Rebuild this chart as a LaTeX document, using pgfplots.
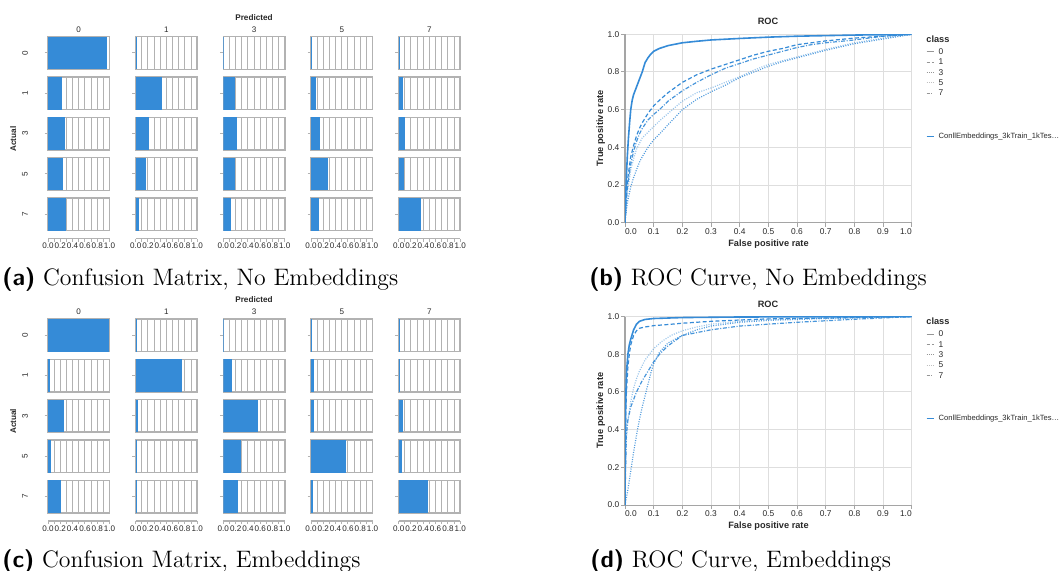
\documentclass[border=0pt]{standalone}
\usepackage{fontspec}
\usepackage{pgfplots}
\pgfplotsset{compat=1.18}
\newfontfamily\lsans{Liberation Sans}
\definecolor{cmblue}{RGB}{53,139,215}
\definecolor{cmgray}{RGB}{178,178,178}
\definecolor{rocgrid}{RGB}{222,222,222}
\definecolor{rocaxis}{RGB}{165,165,165}
\definecolor{lgray}{RGB}{150,150,150}
\definecolor{txt}{RGB}{40,40,40}
\def\U{0.5pt}
\newcommand\cmfont{\lsans\fontsize{4.05}{4.8}\selectfont}
\newcommand\hdfont{\lsans\bfseries\fontsize{4.1}{5}\selectfont}
\newcommand\rocfont{\lsans\fontsize{4.2}{5}\selectfont}
\newcommand\roctfont{\lsans\bfseries\fontsize{4.6}{5.5}\selectfont}
\newcommand\capfont{\fontsize{11.9}{14}\selectfont}
\tikzset{
  l0/.style={solid},
  l1/.style={dash pattern=on 1.6pt off 1pt},
  l3/.style={dash pattern=on 0.5pt off 0.6pt},
  l5/.style={dash pattern=on 0.5pt off 0.6pt,opacity=0.6},
  l7/.style={dash pattern=on 1.6pt off 0.7pt on 0.5pt off 0.7pt},
}
\pgfplotsset{
  cmcell/.style={width=30.75pt,height=16.25pt,scale only axis,
    xmin=0,xmax=1,ymin=0,ymax=1,
    xtick={0.1,0.2,0.3,0.4,0.5,0.6,0.7,0.8,0.9},xticklabels={},
    xmajorgrids, xtick style={draw=none},
    ytick={0.5},yticklabels={},ytick pos=left,tick align=outside,
    ytick style={cmgray,line width=0.5pt},major tick length=1.7pt,
    grid style={cmgray,line width=0.5pt},
    axis line style={cmgray,line width=0.7pt}},
  cmticks/.style={width=30.75pt,height=1pt,scale only axis,
    xmin=0,xmax=1,ymin=0,ymax=1,hide y axis,axis x line*=bottom,
    x axis line style={-,cmgray,line width=0.6pt},
    xtick={0,0.1,0.2,0.3,0.4,0.5,0.6,0.7,0.8,0.9,1},
    xticklabels={0.0,,0.2,,0.4,,0.6,,0.8,,1.0},
    tick align=outside,xtick style={cmgray,line width=0.5pt},major tick length=1.5pt,
    xticklabel style={font=\cmfont,text=txt,inner sep=0.5pt},
    /pgf/number format/assume math mode=true},
  roc/.style={width=143.35pt,height=94.2pt,scale only axis,
    xmin=0,xmax=1,ymin=0,ymax=1,
    xtick={0,0.1,0.2,0.3,0.4,0.5,0.6,0.7,0.8,0.9,1},
    xticklabels={\makebox[0pt][l]{0.0},0.1,0.2,0.3,0.4,0.5,0.6,0.7,0.8,0.9,\makebox[0pt][r]{1.0}},
    ytick={0,0.2,0.4,0.6,0.8,1},yticklabels={0.0,0.2,0.4,0.6,0.8,1.0},
    grid=major,grid style={rocgrid,line width=0.5pt},
    axis x line*=bottom,axis y line*=left,
    x axis line style={-,rocaxis,line width=0.5pt},
    y axis line style={-,rocaxis,line width=0.9pt},
    tick align=outside,major tick length=2pt,tick style={rocaxis,line width=0.5pt},
    ticklabel style={font=\rocfont,text=txt,inner sep=0.6pt},
    /pgf/number format/assume math mode=true},
  c0/.style={cmblue,line width=0.8pt},
  c1/.style={cmblue,line width=0.6pt,dash pattern=on 2pt off 1.2pt},
  c3/.style={cmblue,line width=0.6pt,opacity=0.85,dash pattern=on 0.5pt off 0.7pt},
  c5/.style={cmblue,line width=0.6pt,opacity=0.5,dash pattern=on 0.5pt off 0.7pt},
  c7/.style={cmblue,line width=0.6pt,opacity=0.9,dash pattern=on 2pt off 0.8pt on 0.5pt off 0.8pt},
}
% one row of a confusion matrix: #1 top y (px), #2 the five shares
\newcommand\cmrow[2]{%
  \foreach \v [count=\c from 0] in {#2} {%
    \begin{axis}[cmcell,at={({(48+\c*87.67)*\U},{-(#1)*\U})},anchor=north west]
      \addplot[draw=none,fill=cmblue] coordinates {(0,0) (\v,0) (\v,1) (0,1)} -- cycle;
    \end{axis}
  }}
% headers and tick axes of a confusion matrix: #1 vertical offset (px)
\newcommand\cmframe[1]{%
  \node[font=\hdfont,text=txt,inner sep=0] at ({254*\U},{-(17.7+#1)*\U}) {Predicted};
  \node[font=\hdfont,text=txt,inner sep=0,rotate=90] at ({13.3*\U},{-(139+#1)*\U}) {Actual};
  \foreach \t [count=\c from 0] in {0,1,3,5,7} {%
    \node[font=\cmfont,text=txt,inner sep=0] at ({(78.75+\c*87.67)*\U},{-(29.3+#1)*\U}) {\t};
    \node[font=\cmfont,text=txt,inner sep=0,rotate=90] at ({25*\U},{-(52.95+\c*40.33+#1)*\U}) {\t};
    \begin{axis}[cmticks,at={({(48+\c*87.67)*\U},{-(238.7+#1)*\U})},anchor=south west]
    \end{axis}
  }}
% legend of a ROC panel: #1 vertical offset (px)
\newcommand\roclegend[1]{%
  \node[font=\roctfont,text=txt,anchor=west,inner sep=0] at ({926*\U},{-(39+#1)*\U}) {class};
  \foreach \t/\s/\y in {0/l0/51.7,1/l1/62,3/l3/72.3,5/l5/82.7,7/l7/93} {%
    \draw[lgray,line width=0.5pt,\s] ({926.7*\U},{-(\y+#1)*\U}) -- ({933.5*\U},{-(\y+#1)*\U});
    \node[font=\rocfont,text=txt,anchor=west,inner sep=0] at ({938.3*\U},{-(\y+#1)*\U}) {\t};
  }
  \draw[cmblue,line width=0.6pt] ({926.7*\U},{-(136.3+#1)*\U}) -- ({934*\U},{-(136.3+#1)*\U});
  \node[font=\lsans\fontsize{3.8}{4.5}\selectfont,text=txt,anchor=west,inner sep=0] at ({938.3*\U},{-(136.3+#1)*\U}) {ConllEmbeddings\_3kTrain\_1kTes…};
  \node[font=\roctfont,text=txt,inner sep=0] at ({768*\U},{-(21.7+#1)*\U}) {ROC};
  \node[font=\roctfont,text=txt,inner sep=0] at ({768.5*\U},{-(244.3+#1)*\U}) {False positive rate};
  \node[font=\roctfont,text=txt,inner sep=0,rotate=90] at ({600.7*\U},{-(128.5+#1)*\U}) {True positive rate};
}
\begin{document}
\begin{tikzpicture}
\useasboundingbox (0,0) rectangle ({1064*\U},{-570*\U});
% ---------- (a) confusion matrix, no embeddings ----------
\cmrow{36.7}{0.967,0.008,0.006,0.003,0.003}
\cmrow{77.0}{0.22,0.43,0.195,0.08,0.065}
\cmrow{117.3}{0.28,0.22,0.23,0.15,0.10}
\cmrow{157.7}{0.25,0.17,0.195,0.28,0.09}
\cmrow{198.0}{0.30,0.06,0.125,0.13,0.36}
\cmframe{0}
% ---------- (c) confusion matrix, embeddings ----------
\cmrow{319.0}{0.99,0.003,0.003,0.002,0.002}
\cmrow{359.3}{0.03,0.75,0.14,0.05,0.005}
\cmrow{399.6}{0.26,0.035,0.56,0.05,0.075}
\cmrow{440.0}{0.05,0.02,0.29,0.565,0.055}
\cmrow{480.3}{0.21,0.01,0.24,0.025,0.48}
\cmframe{282.3}
% ---------- (b) ROC, no embeddings ----------
\begin{axis}[roc,at={({625*\U},{-222.7*\U})},anchor=south west]
\addplot[c3] coordinates {(0,0) (0.005,0.07) (0.01,0.12) (0.02,0.19) (0.03,0.24) (0.04,0.28) (0.05,0.32) (0.06,0.35) (0.08,0.40) (0.1,0.44) (0.12,0.47) (0.15,0.52) (0.2,0.60) (0.25,0.655) (0.3,0.695) (0.35,0.73) (0.4,0.77) (0.45,0.80) (0.5,0.83) (0.55,0.855) (0.6,0.875) (0.65,0.895) (0.7,0.915) (0.8,0.95) (0.9,0.975) (1,1)};
\addplot[c5] coordinates {(0,0) (0.005,0.10) (0.01,0.18) (0.02,0.28) (0.03,0.34) (0.04,0.39) (0.05,0.42) (0.06,0.45) (0.08,0.48) (0.1,0.51) (0.12,0.54) (0.15,0.58) (0.2,0.645) (0.25,0.69) (0.3,0.715) (0.35,0.745) (0.4,0.775) (0.45,0.81) (0.5,0.84) (0.55,0.86) (0.6,0.88) (0.65,0.90) (0.7,0.92) (0.8,0.955) (0.9,0.98) (1,1)};
\addplot[c7] coordinates {(0,0) (0.005,0.13) (0.01,0.21) (0.02,0.31) (0.03,0.38) (0.04,0.43) (0.05,0.47) (0.06,0.50) (0.08,0.545) (0.1,0.575) (0.12,0.60) (0.15,0.645) (0.2,0.70) (0.25,0.745) (0.3,0.785) (0.35,0.82) (0.4,0.845) (0.45,0.87) (0.5,0.89) (0.55,0.91) (0.6,0.93) (0.65,0.945) (0.7,0.955) (0.8,0.97) (0.9,0.99) (1,1)};
\addplot[c1] coordinates {(0,0) (0.005,0.15) (0.01,0.24) (0.02,0.35) (0.03,0.41) (0.04,0.46) (0.05,0.50) (0.06,0.53) (0.08,0.58) (0.1,0.62) (0.12,0.65) (0.15,0.69) (0.2,0.745) (0.25,0.785) (0.3,0.815) (0.35,0.84) (0.4,0.865) (0.45,0.89) (0.5,0.91) (0.55,0.925) (0.6,0.945) (0.65,0.955) (0.7,0.965) (0.8,0.98) (0.9,0.99) (1,1)};
\addplot[c0] coordinates {(0,0) (0.002,0.12) (0.005,0.25) (0.008,0.35) (0.012,0.45) (0.016,0.53) (0.02,0.60) (0.025,0.65) (0.03,0.68) (0.04,0.72) (0.05,0.76) (0.06,0.80) (0.07,0.85) (0.08,0.875) (0.09,0.895) (0.1,0.91) (0.12,0.925) (0.15,0.94) (0.2,0.955) (0.25,0.963) (0.3,0.97) (0.4,0.978) (0.5,0.985) (0.6,0.99) (0.7,0.993) (0.8,0.996) (0.9,0.998) (1,1)};
\end{axis}
\roclegend{0}
% ---------- (d) ROC, embeddings ----------
\begin{axis}[roc,at={({625*\U},{-505*\U})},anchor=south west]
\addplot[c3] coordinates {(0,0) (0.005,0.04) (0.01,0.08) (0.02,0.18) (0.03,0.28) (0.04,0.37) (0.05,0.45) (0.06,0.52) (0.07,0.58) (0.08,0.64) (0.09,0.70) (0.1,0.75) (0.12,0.81) (0.15,0.86) (0.2,0.90) (0.25,0.93) (0.3,0.95) (0.4,0.97) (0.5,0.98) (0.7,0.99) (1,1)};
\addplot[c5] coordinates {(0,0) (0.002,0.20) (0.005,0.35) (0.01,0.45) (0.02,0.55) (0.03,0.62) (0.04,0.67) (0.05,0.71) (0.07,0.77) (0.1,0.83) (0.13,0.87) (0.16,0.90) (0.2,0.925) (0.25,0.945) (0.3,0.96) (0.4,0.975) (0.5,0.985) (0.7,0.993) (1,1)};
\addplot[c7] coordinates {(0,0) (0.002,0.20) (0.005,0.38) (0.01,0.45) (0.02,0.52) (0.03,0.56) (0.04,0.60) (0.05,0.63) (0.06,0.66) (0.08,0.71) (0.1,0.76) (0.12,0.80) (0.15,0.845) (0.2,0.90) (0.25,0.915) (0.3,0.93) (0.4,0.95) (0.5,0.96) (0.6,0.97) (0.7,0.978) (0.8,0.986) (0.9,0.993) (1,1)};
\addplot[c1] coordinates {(0,0) (0.001,0.30) (0.003,0.50) (0.005,0.60) (0.01,0.73) (0.015,0.80) (0.02,0.85) (0.03,0.90) (0.04,0.925) (0.05,0.938) (0.07,0.945) (0.1,0.952) (0.15,0.958) (0.2,0.965) (0.3,0.975) (0.4,0.982) (0.5,0.988) (0.6,0.99) (0.8,0.995) (1,1)};
\addplot[c0] coordinates {(0,0) (0.001,0.30) (0.002,0.50) (0.004,0.65) (0.006,0.72) (0.01,0.80) (0.015,0.85) (0.02,0.88) (0.03,0.93) (0.04,0.96) (0.05,0.975) (0.07,0.985) (0.1,0.99) (0.2,0.995) (0.4,0.998) (1,1)};
\end{axis}
\roclegend{282.3}
% ---------- captions ----------
\node[anchor=base west,inner sep=0,font=\capfont] at ({2*\U},{-285.4*\U}) {{\sffamily\bfseries (a)} Confusion Matrix, No Embeddings};
\node[anchor=base west,inner sep=0,font=\capfont] at ({589*\U},{-285.4*\U}) {{\sffamily\bfseries (b)} ROC Curve, No Embeddings};
\node[anchor=base west,inner sep=0,font=\capfont] at ({2*\U},{-567.7*\U}) {{\sffamily\bfseries (c)} Confusion Matrix, Embeddings};
\node[anchor=base west,inner sep=0,font=\capfont] at ({590*\U},{-567.7*\U}) {{\sffamily\bfseries (d)} ROC Curve, Embeddings};
\end{tikzpicture}
\end{document}
